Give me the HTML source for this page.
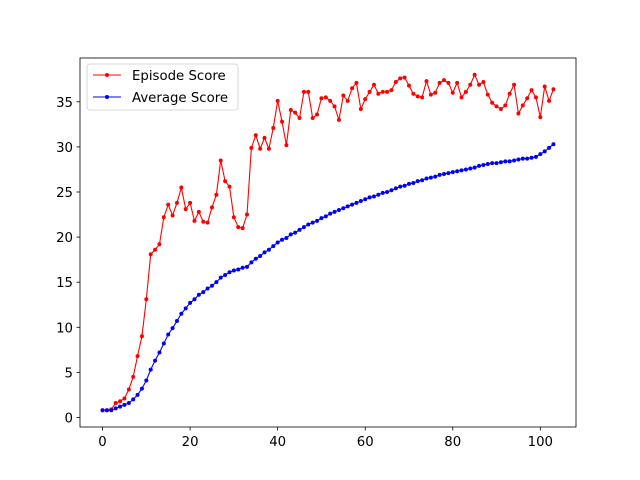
<!DOCTYPE html>
<html><head><meta charset="utf-8"><style>
body{margin:0;background:#fff}
svg{display:block;font-family:"DejaVu Sans","Liberation Sans",sans-serif}
</style></head><body>
<svg id="chart" width="640" height="480"></svg>
<script>
const episodeScores=[0.8,0.8,0.9,1.6,1.8,2.1,3.1,4.5,6.8,9.0,13.1,18.1,18.6,19.2,22.2,23.6,22.4,23.8,25.5,23.1,23.8,21.8,22.8,21.7,21.6,23.3,24.7,28.5,26.2,25.6,22.2,21.1,21.0,22.5,29.9,31.3,29.8,31.0,29.8,32.1,35.1,32.8,30.2,34.1,33.8,33.2,36.1,36.1,33.2,33.6,35.4,35.5,35.1,34.5,33.0,35.7,35.1,36.5,37.1,34.2,35.3,36.1,36.9,35.9,36.1,36.1,36.3,37.2,37.6,37.7,36.8,35.9,35.6,35.5,37.3,35.8,36.0,37.1,37.4,37.1,36.0,37.1,35.5,36.1,36.9,38.0,36.9,37.2,35.8,34.9,34.5,34.2,34.6,35.9,36.9,33.7,34.6,35.4,36.3,35.5,33.3,36.7,35.1,36.4];
const averageScores=[0.8,0.8,0.8,1.0,1.2,1.4,1.6,2.0,2.5,3.2,4.1,5.3,6.3,7.2,8.2,9.2,9.9,10.7,11.5,12.1,12.7,13.1,13.6,13.9,14.3,14.6,15.0,15.5,15.8,16.1,16.3,16.4,16.6,16.7,17.2,17.6,17.9,18.3,18.6,19.0,19.4,19.7,19.9,20.3,20.5,20.8,21.1,21.4,21.6,21.8,22.1,22.3,22.6,22.8,23.0,23.2,23.4,23.6,23.8,24.0,24.2,24.4,24.5,24.7,24.9,25.0,25.2,25.4,25.6,25.7,25.9,26.0,26.2,26.3,26.5,26.6,26.7,26.9,27.0,27.1,27.2,27.3,27.4,27.5,27.6,27.7,27.9,28.0,28.1,28.2,28.2,28.3,28.4,28.4,28.5,28.6,28.7,28.7,28.8,28.9,29.2,29.5,29.9,30.3];
const xTicks=[0,20,40,60,80,100];
const yTicks=[0,5,10,15,20,25,30,35];
const seriesNames=["Episode Score","Average Score"];

const L=80,R=576,T=58,B=427;
const n=episodeScores.length;
const xmin=-0.05*(n-1),xmax=(n-1)*1.05;
const all=episodeScores.concat(averageScores);
const dmin=Math.min(...all),dmax=Math.max(...all);
const ymin=dmin-0.05*(dmax-dmin),ymax=dmax+0.05*(dmax-dmin);
const sx=v=>L+(v-xmin)/(xmax-xmin)*(R-L);
const sy=v=>B-(v-ymin)/(ymax-ymin)*(B-T);
const svg=document.getElementById('chart');
const NS='http://www.w3.org/2000/svg';
function mk(tag,attrs,parent){const e=document.createElementNS(NS,tag);for(const k in attrs)e.setAttribute(k,attrs[k]);(parent||svg).appendChild(e);return e;}

function series(data,color,name){
  const g=mk('g',{});
  
  
  mk('polyline',{points:data.map((v,i)=>sx(i)+','+sy(v)).join(' '),fill:'none',stroke:color,'stroke-width':1.1},g);
  data.forEach((v,i)=>{const c=mk('circle',{cx:sx(i),cy:sy(v),r:2,fill:color},g);
    
    });
}
series(episodeScores,'#ff0000','episode-score-line');
series(averageScores,'#0000ff','average-score-line');

const axes=mk('rect',{x:L,y:T,width:R-L,height:B-T,fill:'none',stroke:'#000','stroke-width':0.8});


xTicks.forEach(t=>{const x=sx(t);
  mk('line',{x1:x,x2:x,y1:B,y2:B+3.5,stroke:'#000','stroke-width':0.8});
  const tx=mk('text',{x:x,y:B+19,'text-anchor':'middle','font-size':13.3});tx.textContent=t;
  
  });
yTicks.forEach(t=>{const y=sy(t);
  mk('line',{x1:L-3.5,x2:L,y1:y,y2:y,stroke:'#000','stroke-width':0.8});
  const tx=mk('text',{x:L-7,y:y+5,'text-anchor':'end','font-size':13.3});tx.textContent=t;
  
  });

const lg=mk('g',{});


mk('rect',{x:87,y:64,width:151,height:46,rx:3,fill:'#fff','fill-opacity':0.8,stroke:'#ccc','stroke-width':0.8},lg);
const cols=['#ff0000','#0000ff'];
seriesNames.forEach((nm,i)=>{const y=75+i*22;
  const e=mk('g',{},lg);
  
  
  mk('line',{x1:93,x2:121,y1:y,y2:y,stroke:cols[i],'stroke-width':1.1},e);
  mk('circle',{cx:107,cy:y,r:2,fill:cols[i]},e);
  const t=mk('text',{x:132,y:y+5,'font-size':13.3},e);t.textContent=nm;});
</script>
</body></html>
